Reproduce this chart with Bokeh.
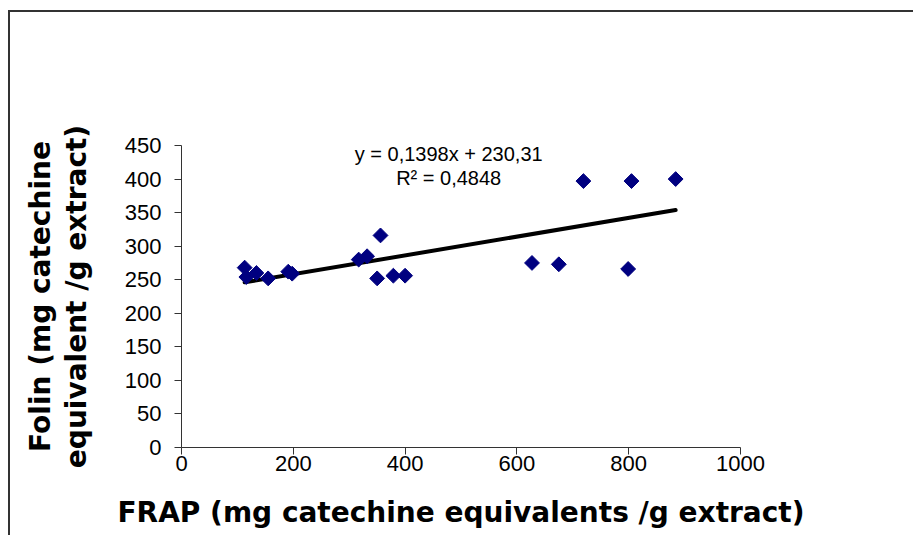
from bokeh.plotting import figure
from bokeh.models import Range1d, Label, FixedTicker
from bokeh.embed import file_html
from bokeh.resources import INLINE

# Data
frap = [113, 116, 134, 155, 191, 198, 317, 332, 356, 350, 379, 400, 627, 675, 719, 799, 805, 884]
folin = [268, 254, 260, 252, 262, 259, 280, 285, 316, 252, 256, 256, 275, 273, 397, 266, 397, 400]

slope = 0.1398
intercept = 230.31
eq_text = "y = 0,1398x + 230,31"
r2_text = "R\u00b2 = 0,4848"

x_ticks = [0, 200, 400, 600, 800, 1000]
y_ticks = [0, 50, 100, 150, 200, 250, 300, 350, 400, 450]

x_title = "FRAP (mg catechine equivalents /g extract)"
y_title = "Folin (mg catechine\nequivalent /g extract)"

FONT = "Liberation Sans"
TITLE_FONT = "DejaVu Sans"

p = figure(width=905, height=525, output_backend="svg", toolbar_location=None,
           x_range=Range1d(0, 1000), y_range=Range1d(0, 450),
           min_border_left=171, min_border_right=175, min_border_top=133, min_border_bottom=90,
           styles={"border-left": "2px solid #333333", "border-top": "2px solid #333333",
                   "margin-top": "10px", "margin-left": "8px"})
p.outline_line_color = None
p.xgrid.visible = False
p.ygrid.visible = False
p.background_fill_color = "white"
p.border_fill_color = "white"

for ax in (p.xaxis[0], p.yaxis[0]):
    ax.axis_line_color = "#333333"
    ax.major_tick_line_color = "#333333"
    ax.minor_tick_line_color = None
    ax.major_tick_in = 0
    ax.major_tick_out = 7
    ax.major_label_text_font = FONT
    ax.major_label_text_font_size = "22px"
    ax.major_label_text_color = "black"
    ax.axis_label_text_font = TITLE_FONT
    ax.axis_label_text_font_style = "bold"
    ax.axis_label_text_font_size = "28px"
    ax.axis_label_text_color = "black"
    ax.axis_label_text_line_height = 1.07

p.xaxis.ticker = FixedTicker(ticks=x_ticks)
p.yaxis.ticker = FixedTicker(ticks=y_ticks)
p.xaxis.axis_label = x_title
p.yaxis.axis_label = y_title
p.xaxis.major_label_standoff = 1
p.yaxis.major_label_standoff = 13
p.xaxis.axis_label_standoff = 22
p.yaxis.axis_label_standoff = 29

# trendline from the equation
x0, x1 = min(frap), max(frap)
p.line([x0, x1], [slope * x0 + intercept, slope * x1 + intercept],
       line_color="black", line_width=4, line_cap="round")

p.scatter(frap, folin, marker="square", angle=0.785398, size=10.5,
          fill_color="#000080", line_color="#000080")

p.add_layout(Label(x=478, y=438, text=eq_text, text_font=FONT, text_font_size="20px",
                   text_align="center", text_baseline="middle", text_color="black"))
p.add_layout(Label(x=478, y=401, text=r2_text, text_font=FONT, text_font_size="20px",
                   text_align="center", text_baseline="middle", text_color="black"))

open("out.html", "w").write(file_html(p, INLINE))
